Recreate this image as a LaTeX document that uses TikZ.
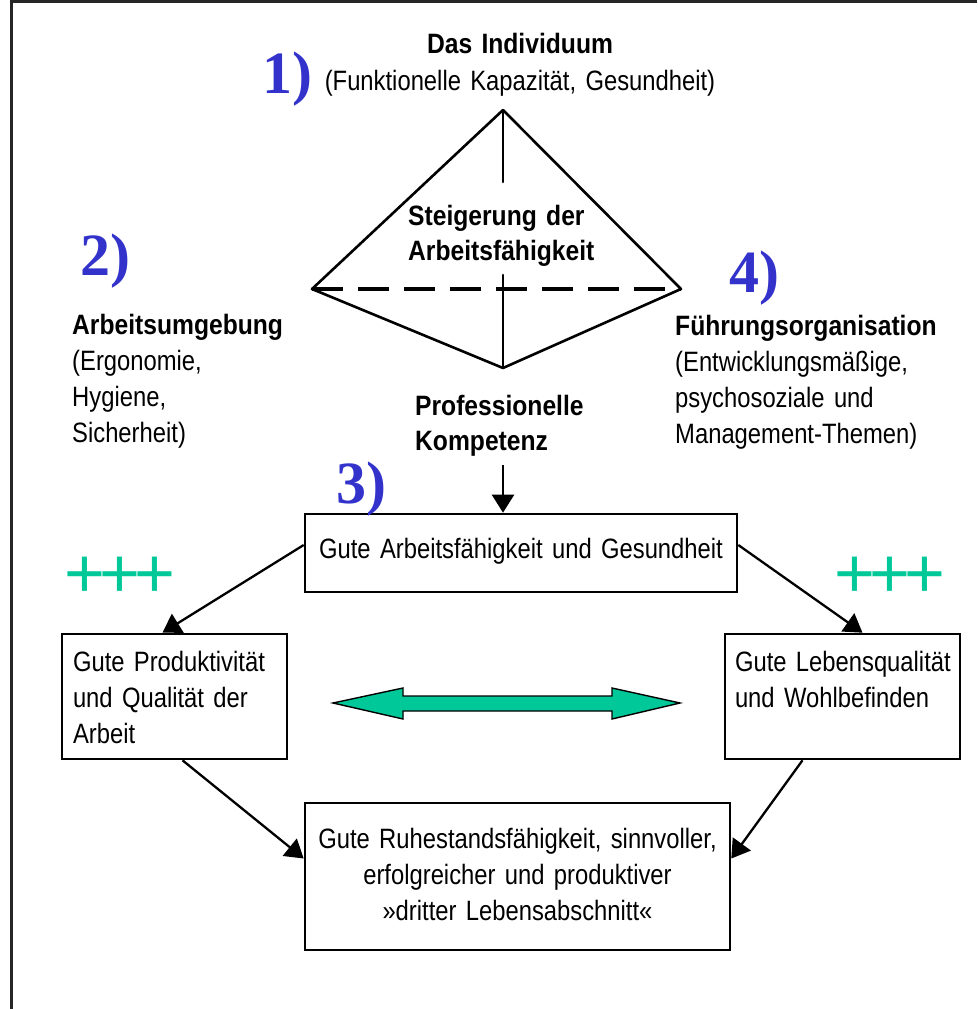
\documentclass[tikz,border=0pt]{standalone}
\usepackage{fontspec}
\setmainfont{Liberation Sans}[FakeStretch=0.85, WordSpace=0.8]
\newfontfamily\hdfont{Liberation Sans}[FakeStretch=0.88, WordSpace=0.85]
\newfontfamily\numfont{Liberation Serif}
\newfontfamily\plusfont{Liberation Sans}
\usetikzlibrary{arrows.meta}
\definecolor{numblue}{RGB}{51,51,204}
\definecolor{mint}{RGB}{0,200,152}
\hyphenpenalty=10000
\exhyphenpenalty=10000
\begin{document}
\begin{tikzpicture}[x=1pt,y=-1pt,
  box/.style={draw, line width=2.6pt, fill=white, inner ysep=0pt,
    font=\fontsize{28}{36}\selectfont},
  arr/.style={line width=2.3pt, -{Triangle[length=18pt,width=22pt]}},
  pyr/.style={line width=2.6pt, line cap=round, line join=round},
  num/.style={font=\numfont\bfseries\fontsize{60}{60}\selectfont, text=numblue,
    inner sep=0pt, anchor=base west},
  lbl/.style={inner sep=0pt, anchor=base west, align=left, text width=320pt,
    font=\fontsize{28}{36}\selectfont},
  plus/.style={font=\plusfont\fontsize{70}{70}\selectfont, text=mint,
    inner sep=0pt, anchor=base west}
]
\useasboundingbox (0,0) rectangle (977,1009);

% frame
\draw[line width=3pt, black!85] (11,1009) -- (11,1.5) -- (977,1.5);

% heading
\node[inner sep=0pt, anchor=base, align=center, text width=460pt,
  font=\fontsize{28}{37}\selectfont] (indiv) at (520,53)
  {{\hdfont\bfseries Das Individuum}\\(Funktionelle Kapazität, Gesundheit)};

% pyramid
\coordinate (apex) at (503,110);
\coordinate (pl) at (312,289);
\coordinate (pr) at (681,289);
\coordinate (pb) at (503,368);
\coordinate (vtop) at (503,182);
\coordinate (vbot) at (503,275);
\draw[pyr] (pl) -- (apex) -- (pr) -- (pb) -- cycle;
\draw[pyr] (apex) -- (vtop);
\draw[pyr] (vbot) -- (pb);
\draw[line width=3.6pt, dash pattern=on 31pt off 15pt] (pl) -- (pr);

\node[lbl, font=\hdfont\bfseries\fontsize{28}{35}\selectfont] (steig) at (408,225)
  {Steigerung der\\Arbeitsfähigkeit};

% side labels
\node[lbl] (env) at (72,334)
  {{\hdfont\bfseries Arbeitsumgebung}\\(Ergonomie,\\Hygiene,\\Sicherheit)};
\node[lbl] (lead) at (675,335)
  {{\hdfont\bfseries Führungsorganisation}\\(Entwicklungsmäßige,\\psychosoziale und\\Management-Themen)};
\node[lbl, font=\hdfont\bfseries\fontsize{28}{35}\selectfont] (prof) at (415,415)
  {Professionelle\\Kompetenz};

% boxes
\node[box, minimum width=432pt, minimum height=78pt, inner xsep=4pt,
  text width=424pt, align=center, text height=20pt, text depth=10pt]
  (work) at (521,553) {\mbox{Gute Arbeitsfähigkeit und Gesundheit}};
\node[box, minimum width=225pt, minimum height=125pt, inner xsep=11pt,
  text width=203pt, align=left, text height=20pt, text depth=71pt]
  (prod) at (174.5,696.5) {\mbox{Gute Produktivität}\\\mbox{und Qualität der}\\Arbeit};
\node[box, minimum width=235pt, minimum height=125pt, inner xsep=10pt,
  text width=215pt, align=left, text height=20pt, text depth=71pt]
  (life) at (842.5,696.5) {\mbox{Gute Lebensqualität}\\\mbox{und Wohlbefinden}};
\node[box, minimum width=425pt, minimum height=147pt, inner xsep=4pt,
  text width=417pt, align=center, text height=20pt, text depth=77pt]
  (retire) at (517.5,876.5)
  {\mbox{Gute Ruhestandsfähigkeit, sinnvoller,}\\\mbox{erfolgreicher und produktiver}\\\mbox{»dritter Lebensabschnitt«}};

% connectors
\draw[arr] ([yshift=-9pt]prof.south -| apex) -- (work.north -| apex);
\draw[arr] ([yshift=8pt]work.west) -- ([xshift=-12pt]prod.north);
\draw[arr] ([yshift=8pt]work.east) -- ([xshift=20pt]life.north);
\draw[arr] ([xshift=8pt]prod.south) -- ([yshift=18pt]retire.west);
\draw[arr] ([xshift=-40pt]life.south) -- ([yshift=18pt]retire.east);

% green double arrow
\draw[fill=mint, line width=1.4pt, line join=miter]
  (333,703) -- (403,688) -- (403,696) -- (612,696) -- (612,688) -- (680,703)
  -- (612,719) -- (612,711) -- (403,711) -- (403,719) -- cycle;

% plus signs
\node[plus] (plusL) at (64,597) {+\kern-5.5pt+\kern-5.5pt+};
\node[plus] (plusR) at (834,597) {+\kern-5.5pt+\kern-5.5pt+};

% numbers
\node[num] (n1) at (262,93) {1)};
\node[num] (n2) at (80,275) {2)};
\node[num] (n3) at (336,503) {3)};
\node[num] (n4) at (729,292) {4)};
\end{tikzpicture}
\end{document}
